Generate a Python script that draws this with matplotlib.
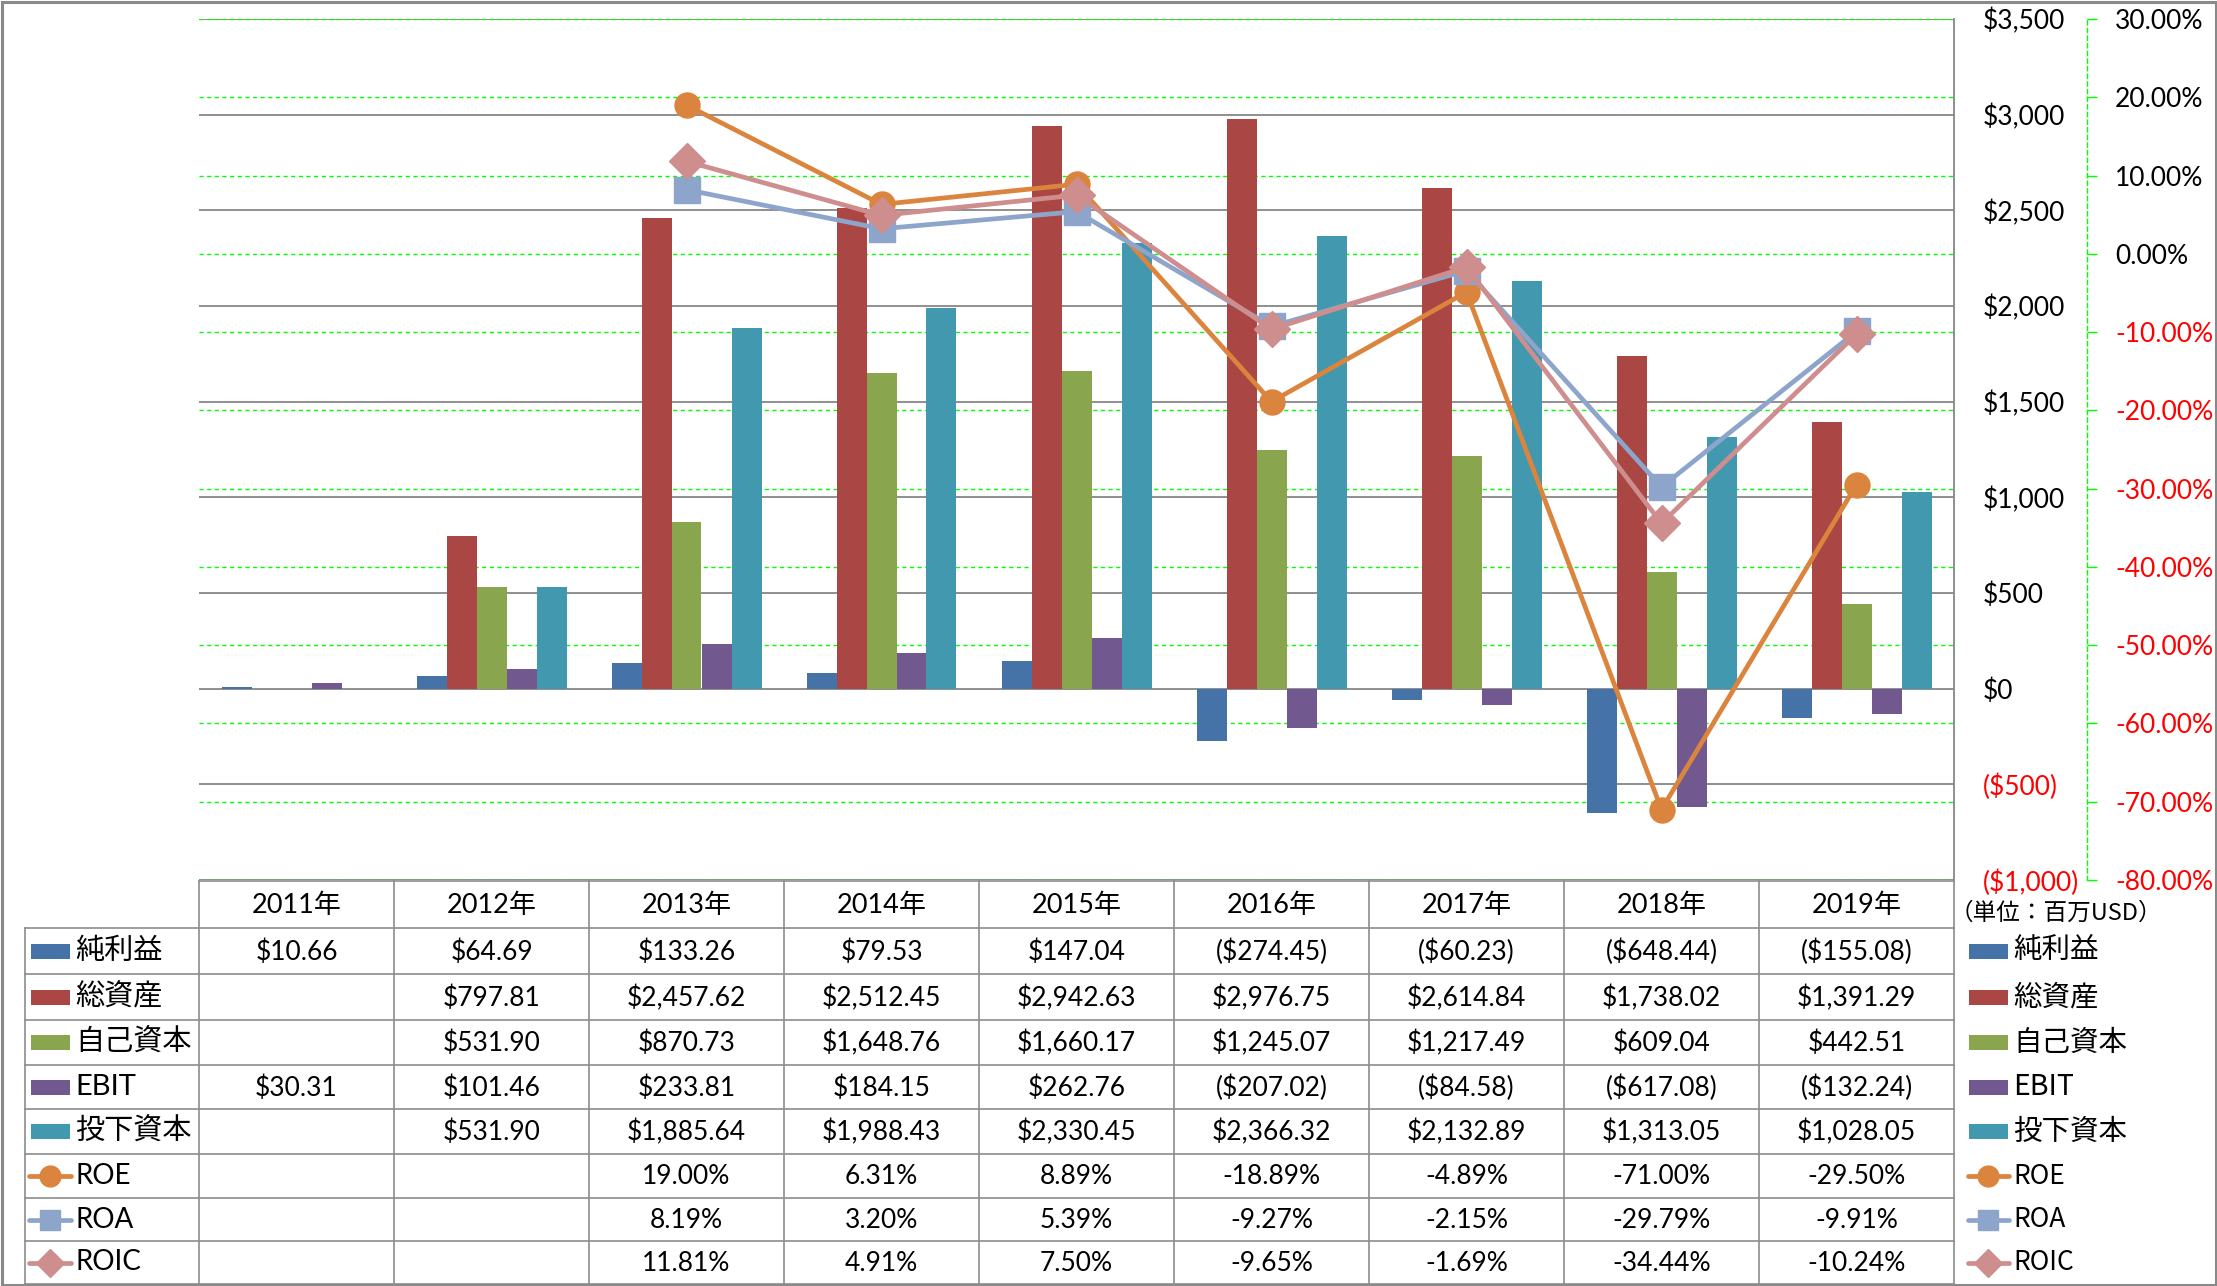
import numpy as np
import matplotlib
matplotlib.use('Agg')
import matplotlib.pyplot as plt
from matplotlib.transforms import blended_transform_factory
from matplotlib.patches import Rectangle

# ---------------- data ----------------
years = ['2011年', '2012年', '2013年', '2014年', '2015年', '2016年', '2017年', '2018年', '2019年']
net_income = [10.66, 64.69, 133.26, 79.53, 147.04, -274.45, -60.23, -648.44, -155.08]
total_assets = [np.nan, 797.81, 2457.62, 2512.45, 2942.63, 2976.75, 2614.84, 1738.02, 1391.29]
equity = [np.nan, 531.90, 870.73, 1648.76, 1660.17, 1245.07, 1217.49, 609.04, 442.51]
ebit = [30.31, 101.46, 233.81, 184.15, 262.76, -207.02, -84.58, -617.08, -132.24]
invested_capital = [np.nan, 531.90, 1885.64, 1988.43, 2330.45, 2366.32, 2132.89, 1313.05, 1028.05]
roe = [np.nan, np.nan, 19.00, 6.31, 8.89, -18.89, -4.89, -71.00, -29.50]
roa = [np.nan, np.nan, 8.19, 3.20, 5.39, -9.27, -2.15, -29.79, -9.91]
roic = [np.nan, np.nan, 11.81, 4.91, 7.50, -9.65, -1.69, -34.44, -10.24]

bar_names = ['純利益', '総資産', '自己資本', 'EBIT', '投下資本']
line_names = ['ROE', 'ROA', 'ROIC']
usd_ticks = [-1000, -500, 0, 500, 1000, 1500, 2000, 2500, 3000, 3500]
pct_ticks = [-80, -70, -60, -50, -40, -30, -20, -10, 0, 10, 20, 30]
unit_label = '（単位：百万USD）'

bar_series = [net_income, total_assets, equity, ebit, invested_capital]
line_series = [roe, roa, roic]
bar_colors = ['#4572A7', '#AA4643', '#89A54E', '#71588F', '#4198AF']
line_colors = ['#DB843D', '#8EA5CB', '#CE8E8E']
line_markers = ['o', 's', 'D']
line_ms = [18, 19, 18]

GRAY = '#868686'
GREEN = '#00FF00'
RED = '#FF0000'
NUMFONT = ['Lato', 'Noto Sans CJK JP', 'DejaVu Sans']
JPFONT = ['Noto Sans CJK JP', 'DejaVu Sans']

W, H = 2217, 1286
fig = plt.figure(figsize=(W / 100, H / 100), dpi=100)
fig.patch.set_facecolor('white')

PL, PR, PT, PB = 199, 1954, 19, 880
ax1 = fig.add_axes([PL / W, 1 - PB / H, (PR - PL) / W, (PB - PT) / H])
ax2 = ax1.twinx()

n = len(years)
x = np.arange(n)
ax1.set_xlim(-0.5, n - 0.5)
ax1.set_ylim(usd_ticks[0], usd_ticks[-1])
ax2.set_ylim(pct_ticks[0], pct_ticks[-1])

# gridlines
ax1.hlines(usd_ticks, 0, 1, transform=blended_transform_factory(ax1.transAxes, ax1.transData),
           colors=GRAY, lw=1.3, zorder=0.5)
ax1.hlines(pct_ticks, 0, 1, transform=blended_transform_factory(ax1.transAxes, ax2.transData),
           colors=GREEN, lw=1.0, linestyles=(0, (3, 2.5)), zorder=0.6)

# bars
bw = 1 / 6.5
for k, (vals, c) in enumerate(zip(bar_series, bar_colors)):
    v = np.array(vals, dtype=float)
    m = ~np.isnan(v)
    ax1.bar(x[m] + (k - 2) * bw, v[m], width=bw, color=c, zorder=2, linewidth=0)

# lines
for vals, c, mk, ms in zip(line_series, line_colors, line_markers, line_ms):
    ax2.plot(x, vals, color=c, lw=3.4, marker=mk, ms=ms, markerfacecolor=c,
             markeredgecolor=c, markeredgewidth=1, zorder=3, solid_capstyle='round')

# axes styling
for s in ['top', 'left', 'bottom']:
    ax1.spines[s].set_visible(False)
    ax2.spines[s].set_visible(False)
ax1.spines['right'].set_color(GRAY)
ax1.spines['right'].set_linewidth(1.3)
ax1.set_xticks([])
ax2.set_xticks([])

ax1.yaxis.tick_right()
ax1.set_yticks(usd_ticks)
ax1.set_yticklabels([('(${:,})'.format(abs(t)) if t < 0 else '${:,}'.format(t)) for t in usd_ticks])
ax1.tick_params(axis='y', length=0, pad=20.9)
for lab, t in zip(ax1.get_yticklabels(), usd_ticks):
    lab.set_color(RED if t < 0 else 'black')
    lab.set_fontsize(19)
    lab.set_family(NUMFONT)

ax2.spines['right'].set_position(('axes', (2087 - PL) / (PR - PL)))
ax2.spines['right'].set_color(GREEN)
ax2.spines['right'].set_linestyle((0, (3, 2.5)))
ax2.spines['right'].set_linewidth(1.0)
ax2.set_yticks(pct_ticks)
ax2.set_yticklabels(['{:.2f}%'.format(t) for t in pct_ticks])
ax2.tick_params(axis='y', direction='out', length=7.2, width=1.0, color=GREEN, pad=13)
for lab, t in zip(ax2.get_yticklabels(), pct_ticks):
    lab.set_color(RED if t < 0 else 'black')
    lab.set_fontsize(19)
    lab.set_family(NUMFONT)

# ---------------- data table (pixel coordinates overlay) ----------------
tab = fig.add_axes([0, 0, 1, 1])
tab.set_xlim(0, W)
tab.set_ylim(H, 0)
tab.axis('off')
tab.patch.set_visible(False)

LC = '#8C8C8C'
col_w = (PR - PL) / n
row_y = [881, 928, 974, 1020, 1065, 1109, 1154, 1198, 1241, 1284]
TL = 25
tab.plot([PL, PR], [row_y[0], row_y[0]], color=LC, lw=1.2)
for yy in row_y[1:]:
    tab.plot([TL, PR], [yy, yy], color=LC, lw=1.2)
tab.plot([TL, TL], [row_y[1], row_y[-1]], color=LC, lw=1.2)
for i in range(n + 1):
    xx = PL + i * col_w
    tab.plot([xx, xx], [row_y[0], row_y[-1]], color=LC, lw=1.2)

centers = [(row_y[i] + row_y[i + 1]) / 2 for i in range(len(row_y) - 1)]

def fmt_usd(v):
    if np.isnan(v):
        return ''
    s = '${:,.2f}'.format(abs(v))
    return '(' + s + ')' if v < 0 else s

def fmt_pct(v):
    if np.isnan(v):
        return ''
    return '{:.2f}%'.format(v)

for i, yr in enumerate(years):
    tab.text(PL + (i + 0.5) * col_w, centers[0] + 1, yr, ha='center', va='center',
             fontsize=19.5, family=NUMFONT)

rows = [(nm, vals, fmt_usd) for nm, vals in zip(bar_names, bar_series)] + \
       [(nm, vals, fmt_pct) for nm, vals in zip(line_names, line_series)]
for r, (nm, vals, f) in enumerate(rows):
    yc = centers[r + 1]
    for i, v in enumerate(vals):
        tab.text(PL + (i + 0.5) * col_w, yc + 1, f(float(v)), ha='center', va='center',
                 fontsize=19, family=NUMFONT)

# left legend keys in table
for r, (nm, c) in enumerate(zip(bar_names, bar_colors)):
    yc = centers[r + 1]
    tab.add_patch(Rectangle((31, yc - 7.5), 39, 15, facecolor=c, edgecolor='none'))
    tab.text(75, yc, nm, ha='left', va='center', fontsize=21, family=NUMFONT)
for r, (nm, c, mk) in enumerate(zip(line_names, line_colors, line_markers)):
    yc = centers[r + 1 + len(bar_names)]
    tab.plot([29, 71], [yc, yc], color=c, lw=3.4, solid_capstyle='round')
    tab.plot([50], [yc], marker=mk, ms=15 if mk != 'D' else 14, color=c, mec=c, mew=1)
    tab.text(75, yc, nm, ha='left', va='center', fontsize=20, family=NUMFONT)

# right legend
tab.text(1950, 913, unit_label, ha='left', va='center', fontsize=17, family=JPFONT)
for r, (nm, c) in enumerate(zip(bar_names, bar_colors)):
    yc = centers[r + 1]
    tab.add_patch(Rectangle((1969, yc - 7.5), 39, 15, facecolor=c, edgecolor='none'))
    tab.text(2013, yc, nm, ha='left', va='center', fontsize=20.5, family=JPFONT)
for r, (nm, c, mk) in enumerate(zip(line_names, line_colors, line_markers)):
    yc = centers[r + 1 + len(bar_names)]
    tab.plot([1968, 2009], [yc, yc], color=c, lw=3.4, solid_capstyle='round')
    tab.plot([1988], [yc], marker=mk, ms=15 if mk != 'D' else 14, color=c, mec=c, mew=1)
    tab.text(2013, yc, nm, ha='left', va='center', fontsize=19, family=JPFONT)

# chart border
tab.add_patch(Rectangle((1.5, 1.5), W - 3, H - 3, facecolor='none', edgecolor='#898989',
                        lw=2.2, clip_on=False))

fig.savefig('out.png', dpi=100, facecolor='white')
